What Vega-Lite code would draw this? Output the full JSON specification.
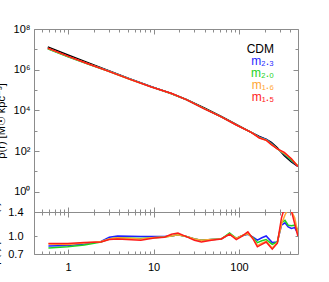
{
  "$schema": "https://vega.github.io/schema/vega-lite/v6.json",
  "padding": {"left": -11, "top": 23, "right": 0, "bottom": -9},
  "spacing": 0,
  "bounds": "flush",
  "resolve": {"scale": {"color": "independent"}},
  "config": {
    "font": "Liberation Sans",
    "view": {"stroke": null},
    "axis": {"domainColor": "#8c8c8c", "tickColor": "#8c8c8c", "grid": false, "labelFont": "Liberation Sans", "labelFontSize": 11, "labelColor": "#000000", "titleFont": "Liberation Sans", "titleFontSize": 11, "titleFontWeight": "normal", "titleColor": "#000000", "domainWidth": 1, "tickWidth": 1, "labelOverlap": false, "labelFlush": false}
  },
  "datasets": {
    "top": [
      {"model": "CDM", "r": 0.58, "rho": 13100000}, {"model": "CDM", "r": 1.0, "rho": 5260000}, {"model": "CDM", "r": 1.71, "rho": 2210000}, {"model": "CDM", "r": 2.94, "rho": 916000}, {"model": "CDM", "r": 5.21, "rho": 363000}, {"model": "CDM", "r": 9.42, "rho": 147000}, {"model": "CDM", "r": 16.1, "rho": 66800}, {"model": "CDM", "r": 24.2, "rho": 34000}, {"model": "CDM", "r": 39.3, "rho": 13000}, {"model": "CDM", "r": 62.1, "rho": 4990}, {"model": "CDM", "r": 93, "rho": 2020}, {"model": "CDM", "r": 139, "rho": 820}, {"model": "CDM", "r": 173, "rho": 522}, {"model": "CDM", "r": 209, "rho": 372}, {"model": "CDM", "r": 239, "rho": 265}, {"model": "CDM", "r": 281, "rho": 143}, {"model": "CDM", "r": 339, "rho": 58}, {"model": "CDM", "r": 410, "rho": 29.4}, {"model": "CDM", "r": 488, "rho": 17.3},
      {"model": "m₂.₃", "r": 0.58, "rho": 10900000}, {"model": "m₂.₃", "r": 1.0, "rho": 4420000}, {"model": "m₂.₃", "r": 1.71, "rho": 1934000}, {"model": "m₂.₃", "r": 2.94, "rho": 889000}, {"model": "m₂.₃", "r": 5.21, "rho": 361000}, {"model": "m₂.₃", "r": 9.42, "rho": 145500}, {"model": "m₂.₃", "r": 16.1, "rho": 66800}, {"model": "m₂.₃", "r": 24.2, "rho": 33700}, {"model": "m₂.₃", "r": 39.3, "rho": 12090}, {"model": "m₂.₃", "r": 62.1, "rho": 4740}, {"model": "m₂.₃", "r": 93, "rho": 1939}, {"model": "m₂.₃", "r": 139, "rho": 820}, {"model": "m₂.₃", "r": 173, "rho": 496}, {"model": "m₂.₃", "r": 209, "rho": 372}, {"model": "m₂.₃", "r": 239, "rho": 236}, {"model": "m₂.₃", "r": 281, "rho": 129}, {"model": "m₂.₃", "r": 339, "rho": 70.2}, {"model": "m₂.₃", "r": 410, "rho": 33.1}, {"model": "m₂.₃", "r": 488, "rho": 18.0},
      {"model": "m₂.₀", "r": 0.58, "rho": 10480000}, {"model": "m₂.₀", "r": 1.0, "rho": 4310000}, {"model": "m₂.₀", "r": 1.71, "rho": 1900000}, {"model": "m₂.₀", "r": 2.94, "rho": 861000}, {"model": "m₂.₀", "r": 5.21, "rho": 350000}, {"model": "m₂.₀", "r": 9.42, "rho": 142600}, {"model": "m₂.₀", "r": 16.1, "rho": 66800}, {"model": "m₂.₀", "r": 24.2, "rho": 33700}, {"model": "m₂.₀", "r": 39.3, "rho": 12090}, {"model": "m₂.₀", "r": 62.1, "rho": 4740}, {"model": "m₂.₀", "r": 93, "rho": 1939}, {"model": "m₂.₀", "r": 139, "rho": 820}, {"model": "m₂.₀", "r": 173, "rho": 470}, {"model": "m₂.₀", "r": 209, "rho": 350}, {"model": "m₂.₀", "r": 239, "rho": 228}, {"model": "m₂.₀", "r": 281, "rho": 129}, {"model": "m₂.₀", "r": 339, "rho": 73.1}, {"model": "m₂.₀", "r": 410, "rho": 34.4}, {"model": "m₂.₀", "r": 488, "rho": 19.0},
      {"model": "m₁.₆", "r": 0.58, "rho": 11330000}, {"model": "m₁.₆", "r": 1.0, "rho": 4520000}, {"model": "m₁.₆", "r": 1.71, "rho": 1967000}, {"model": "m₁.₆", "r": 2.94, "rho": 861000}, {"model": "m₁.₆", "r": 5.21, "rho": 348000}, {"model": "m₁.₆", "r": 9.42, "rho": 142600}, {"model": "m₁.₆", "r": 16.1, "rho": 66800}, {"model": "m₁.₆", "r": 24.2, "rho": 33700}, {"model": "m₁.₆", "r": 39.3, "rho": 12090}, {"model": "m₁.₆", "r": 62.1, "rho": 4740}, {"model": "m₁.₆", "r": 93, "rho": 1939}, {"model": "m₁.₆", "r": 139, "rho": 820}, {"model": "m₁.₆", "r": 173, "rho": 449}, {"model": "m₁.₆", "r": 209, "rho": 339}, {"model": "m₁.₆", "r": 239, "rho": 212}, {"model": "m₁.₆", "r": 281, "rho": 127}, {"model": "m₁.₆", "r": 339, "rho": 77.1}, {"model": "m₁.₆", "r": 410, "rho": 41.7}, {"model": "m₁.₆", "r": 488, "rho": 18.2},
      {"model": "m₁.₅", "r": 0.58, "rho": 11490000}, {"model": "m₁.₅", "r": 1.0, "rho": 4610000}, {"model": "m₁.₅", "r": 1.71, "rho": 1967000}, {"model": "m₁.₅", "r": 2.94, "rho": 852000}, {"model": "m₁.₅", "r": 5.21, "rho": 341000}, {"model": "m₁.₅", "r": 9.42, "rho": 141100}, {"model": "m₁.₅", "r": 16.1, "rho": 68800}, {"model": "m₁.₅", "r": 24.2, "rho": 33700}, {"model": "m₁.₅", "r": 39.3, "rho": 11830}, {"model": "m₁.₅", "r": 62.1, "rho": 4740}, {"model": "m₁.₅", "r": 93, "rho": 1899}, {"model": "m₁.₅", "r": 139, "rho": 820}, {"model": "m₁.₅", "r": 173, "rho": 438}, {"model": "m₁.₅", "r": 209, "rho": 335}, {"model": "m₁.₅", "r": 239, "rho": 207}, {"model": "m₁.₅", "r": 281, "rho": 126}, {"model": "m₁.₅", "r": 339, "rho": 85.3}, {"model": "m₁.₅", "r": 410, "rho": 41.7}, {"model": "m₁.₅", "r": 488, "rho": 17.3}
    ],
    "ratio": [
      {"model": "m₂.₃", "r": 0.59, "ratio": 0.832}, {"model": "m₂.₃", "r": 0.99, "ratio": 0.84}, {"model": "m₂.₃", "r": 1.55, "ratio": 0.866}, {"model": "m₂.₃", "r": 2.43, "ratio": 0.91}, {"model": "m₂.₃", "r": 3.04, "ratio": 0.98}, {"model": "m₂.₃", "r": 3.8, "ratio": 1.0}, {"model": "m₂.₃", "r": 7.1, "ratio": 0.99}, {"model": "m₂.₃", "r": 10.2, "ratio": 0.99}, {"model": "m₂.₃", "r": 13.4, "ratio": 0.99}, {"model": "m₂.₃", "r": 16.2, "ratio": 1.0}, {"model": "m₂.₃", "r": 19.3, "ratio": 1.02}, {"model": "m₂.₃", "r": 24.2, "ratio": 0.99}, {"model": "m₂.₃", "r": 30.1, "ratio": 0.95}, {"model": "m₂.₃", "r": 36.3, "ratio": 0.93}, {"model": "m₂.₃", "r": 47.5, "ratio": 0.94}, {"model": "m₂.₃", "r": 62, "ratio": 0.95}, {"model": "m₂.₃", "r": 77.5, "ratio": 1.03}, {"model": "m₂.₃", "r": 93, "ratio": 0.96}, {"model": "m₂.₃", "r": 106.5, "ratio": 1.0}, {"model": "m₂.₃", "r": 127, "ratio": 1.03}, {"model": "m₂.₃", "r": 146, "ratio": 0.98}, {"model": "m₂.₃", "r": 164, "ratio": 0.93}, {"model": "m₂.₃", "r": 185, "ratio": 0.97}, {"model": "m₂.₃", "r": 208, "ratio": 1.0}, {"model": "m₂.₃", "r": 245, "ratio": 0.89}, {"model": "m₂.₃", "r": 281, "ratio": 0.9}, {"model": "m₂.₃", "r": 314, "ratio": 1.18}, {"model": "m₂.₃", "r": 345, "ratio": 1.22}, {"model": "m₂.₃", "r": 376, "ratio": 1.15}, {"model": "m₂.₃", "r": 410, "ratio": 1.125}, {"model": "m₂.₃", "r": 449, "ratio": 1.14}, {"model": "m₂.₃", "r": 488, "ratio": 1.04},
      {"model": "m₂.₀", "r": 0.59, "ratio": 0.8}, {"model": "m₂.₀", "r": 0.99, "ratio": 0.82}, {"model": "m₂.₀", "r": 1.55, "ratio": 0.85}, {"model": "m₂.₀", "r": 2.43, "ratio": 0.9}, {"model": "m₂.₀", "r": 3.04, "ratio": 0.95}, {"model": "m₂.₀", "r": 3.8, "ratio": 0.97}, {"model": "m₂.₀", "r": 7.1, "ratio": 0.96}, {"model": "m₂.₀", "r": 10.2, "ratio": 0.97}, {"model": "m₂.₀", "r": 13.4, "ratio": 0.985}, {"model": "m₂.₀", "r": 16.2, "ratio": 1.0}, {"model": "m₂.₀", "r": 19.3, "ratio": 1.02}, {"model": "m₂.₀", "r": 24.2, "ratio": 0.99}, {"model": "m₂.₀", "r": 30.1, "ratio": 0.95}, {"model": "m₂.₀", "r": 36.3, "ratio": 0.93}, {"model": "m₂.₀", "r": 47.5, "ratio": 0.94}, {"model": "m₂.₀", "r": 62, "ratio": 0.95}, {"model": "m₂.₀", "r": 77.5, "ratio": 1.05}, {"model": "m₂.₀", "r": 93, "ratio": 0.96}, {"model": "m₂.₀", "r": 106.5, "ratio": 1.0}, {"model": "m₂.₀", "r": 127, "ratio": 1.04}, {"model": "m₂.₀", "r": 146, "ratio": 0.97}, {"model": "m₂.₀", "r": 164, "ratio": 0.89}, {"model": "m₂.₀", "r": 185, "ratio": 0.92}, {"model": "m₂.₀", "r": 208, "ratio": 0.94}, {"model": "m₂.₀", "r": 245, "ratio": 0.86}, {"model": "m₂.₀", "r": 281, "ratio": 0.9}, {"model": "m₂.₀", "r": 314, "ratio": 1.22}, {"model": "m₂.₀", "r": 345, "ratio": 1.26}, {"model": "m₂.₀", "r": 376, "ratio": 1.18}, {"model": "m₂.₀", "r": 410, "ratio": 1.17}, {"model": "m₂.₀", "r": 449, "ratio": 1.18}, {"model": "m₂.₀", "r": 488, "ratio": 1.1},
      {"model": "m₁.₆", "r": 0.59, "ratio": 0.865}, {"model": "m₁.₆", "r": 0.99, "ratio": 0.86}, {"model": "m₁.₆", "r": 1.55, "ratio": 0.885}, {"model": "m₁.₆", "r": 2.43, "ratio": 0.91}, {"model": "m₁.₆", "r": 3.04, "ratio": 0.95}, {"model": "m₁.₆", "r": 3.8, "ratio": 0.97}, {"model": "m₁.₆", "r": 7.1, "ratio": 0.95}, {"model": "m₁.₆", "r": 10.2, "ratio": 0.975}, {"model": "m₁.₆", "r": 13.4, "ratio": 0.985}, {"model": "m₁.₆", "r": 16.2, "ratio": 1.0}, {"model": "m₁.₆", "r": 19.3, "ratio": 1.02}, {"model": "m₁.₆", "r": 24.2, "ratio": 0.99}, {"model": "m₁.₆", "r": 30.1, "ratio": 0.95}, {"model": "m₁.₆", "r": 36.3, "ratio": 0.93}, {"model": "m₁.₆", "r": 47.5, "ratio": 0.94}, {"model": "m₁.₆", "r": 62, "ratio": 0.95}, {"model": "m₁.₆", "r": 77.5, "ratio": 1.03}, {"model": "m₁.₆", "r": 93, "ratio": 0.96}, {"model": "m₁.₆", "r": 106.5, "ratio": 1.0}, {"model": "m₁.₆", "r": 127, "ratio": 1.04}, {"model": "m₁.₆", "r": 146, "ratio": 0.96}, {"model": "m₁.₆", "r": 164, "ratio": 0.84}, {"model": "m₁.₆", "r": 185, "ratio": 0.88}, {"model": "m₁.₆", "r": 208, "ratio": 0.91}, {"model": "m₁.₆", "r": 245, "ratio": 0.8}, {"model": "m₁.₆", "r": 281, "ratio": 0.89}, {"model": "m₁.₆", "r": 314, "ratio": 1.2}, {"model": "m₁.₆", "r": 345, "ratio": 1.35}, {"model": "m₁.₆", "r": 376, "ratio": 1.45}, {"model": "m₁.₆", "r": 410, "ratio": 1.42}, {"model": "m₁.₆", "r": 449, "ratio": 1.3}, {"model": "m₁.₆", "r": 488, "ratio": 1.05},
      {"model": "m₁.₅", "r": 0.59, "ratio": 0.877}, {"model": "m₁.₅", "r": 0.99, "ratio": 0.877}, {"model": "m₁.₅", "r": 1.55, "ratio": 0.89}, {"model": "m₁.₅", "r": 2.43, "ratio": 0.9}, {"model": "m₁.₅", "r": 3.04, "ratio": 0.94}, {"model": "m₁.₅", "r": 3.8, "ratio": 0.95}, {"model": "m₁.₅", "r": 7.1, "ratio": 0.93}, {"model": "m₁.₅", "r": 10.2, "ratio": 0.965}, {"model": "m₁.₅", "r": 13.4, "ratio": 0.98}, {"model": "m₁.₅", "r": 16.2, "ratio": 1.03}, {"model": "m₁.₅", "r": 19.3, "ratio": 1.05}, {"model": "m₁.₅", "r": 24.2, "ratio": 0.99}, {"model": "m₁.₅", "r": 30.1, "ratio": 0.93}, {"model": "m₁.₅", "r": 36.3, "ratio": 0.9}, {"model": "m₁.₅", "r": 47.5, "ratio": 0.93}, {"model": "m₁.₅", "r": 62, "ratio": 0.95}, {"model": "m₁.₅", "r": 77.5, "ratio": 1.03}, {"model": "m₁.₅", "r": 93, "ratio": 0.94}, {"model": "m₁.₅", "r": 106.5, "ratio": 0.99}, {"model": "m₁.₅", "r": 127, "ratio": 1.07}, {"model": "m₁.₅", "r": 146, "ratio": 0.95}, {"model": "m₁.₅", "r": 164, "ratio": 0.82}, {"model": "m₁.₅", "r": 185, "ratio": 0.86}, {"model": "m₁.₅", "r": 208, "ratio": 0.9}, {"model": "m₁.₅", "r": 245, "ratio": 0.78}, {"model": "m₁.₅", "r": 281, "ratio": 0.88}, {"model": "m₁.₅", "r": 314, "ratio": 1.3}, {"model": "m₁.₅", "r": 345, "ratio": 1.5}, {"model": "m₁.₅", "r": 376, "ratio": 1.55}, {"model": "m₁.₅", "r": 410, "ratio": 1.42}, {"model": "m₁.₅", "r": 449, "ratio": 1.2}, {"model": "m₁.₅", "r": 488, "ratio": 1.0}
    ]
  },
  "vconcat": [
    {
      "width": 264,
      "height": 183,
      "data": {"name": "top"},
      "layer": [
        {
          "mark": {"type": "line", "strokeWidth": 1.5, "clip": true},
          "encoding": {
            "x": {"field": "r", "type": "quantitative", "scale": {"type": "log", "domain": [0.4, 490]},
              "axis": {"orient": "bottom", "values": [0.4,0.5,0.6,0.7,0.8,0.9,1,2,3,4,5,6,7,8,9,10,20,30,40,50,60,70,80,90,100,200,300,400], "labels": false, "title": null,
                "tickSize": {"condition": {"test": "indexof([1,10,100], datum.value) >= 0", "value": -5}, "value": -3}}},
            "y": {"field": "rho", "type": "quantitative", "scale": {"type": "log", "domain": [0.1, 100000000]},
              "axis": {"orient": "left", "values": [1,10,100,1000,10000,100000,1000000,10000000,100000000],
                "labelExpr": "round(log(datum.value)/LN10) % 2 == 0 ? '10' + ['⁰','¹','²','³','⁴','⁵','⁶','⁷','⁸'][round(log(datum.value)/LN10)] : ''",
                "tickSize": {"condition": {"test": "round(log(datum.value)/LN10) % 2 == 0", "value": -5}, "value": -3},
                "labelPadding": 9, "title": "ρ(r) [M☉ kpc⁻³]", "titlePadding": 7}},
            "color": {"field": "model", "type": "nominal",
              "scale": {"domain": ["CDM", "m₂.₃", "m₂.₀", "m₁.₆", "m₁.₅"], "range": ["#000000", "#1f1fff", "#1ed21e", "#ffa533", "#ff1a1a"]},
              "legend": {"orient": "none", "legendX": 228, "legendY": 14, "title": null, "symbolOpacity": 0, "symbolSize": 0, "symbolStrokeWidth": 0,
                "labelAlign": "right", "labelFontSize": 12, "labelFont": "Liberation Sans", "rowPadding": -0.5, "labelOffset": 0, "padding": 0,
                "encode": {"labels": {"update": {"fill": {"signal": "datum.value === 'CDM' ? '#000000' : datum.value === 'm₂.₃' ? '#1f1fff' : datum.value === 'm₂.₀' ? '#1ed21e' : datum.value === 'm₁.₆' ? '#ffa533' : '#ff1a1a'"}}}}}}
          }
        },
        {
          "mark": {"type": "line", "opacity": 0},
          "encoding": {
            "x": {"field": "r", "type": "quantitative", "scale": {"type": "log", "domain": [0.4, 490]},
              "axis": {"orient": "top", "values": [0.4,0.5,0.6,0.7,0.8,0.9,1,2,3,4,5,6,7,8,9,10,20,30,40,50,60,70,80,90,100,200,300,400], "labels": false, "title": null,
                "tickSize": {"condition": {"test": "indexof([1,10,100], datum.value) >= 0", "value": -5}, "value": -3}}},
            "y": {"field": "rho", "type": "quantitative", "scale": {"type": "log", "domain": [0.1, 100000000]},
              "axis": {"orient": "right", "values": [1,10,100,1000,10000,100000,1000000,10000000,100000000], "labels": false, "title": null,
                "tickSize": {"condition": {"test": "round(log(datum.value)/LN10) % 2 == 0", "value": -5}, "value": -3}}}
          }
        }
      ],
      "resolve": {"axis": {"x": "independent", "y": "independent"}}
    },
    {
      "width": 264,
      "height": 42,
      "layer": [
        {
          "mark": {"type": "rule", "strokeDash": [1, 2], "color": "#999999", "strokeWidth": 1},
          "encoding": {"y": {"datum": 1, "type": "quantitative", "scale": {"domain": [0.7, 1.4], "zero": false, "nice": false}, "axis": null}}
        },
        {
          "data": {"name": "ratio"},
          "mark": {"type": "line", "strokeWidth": 1.5, "clip": true},
          "encoding": {
            "x": {"field": "r", "type": "quantitative", "scale": {"type": "log", "domain": [0.4, 490]},
              "axis": {"orient": "bottom", "values": [0.4,0.5,0.6,0.7,0.8,0.9,1,2,3,4,5,6,7,8,9,10,20,30,40,50,60,70,80,90,100,200,300,400],
                "labelExpr": "indexof([1,10,100], datum.value) >= 0 ? '' + datum.value : ''", "labelPadding": 12, "title": "r [ kpc ]", "titlePadding": -2,
                "tickSize": {"condition": {"test": "indexof([1,10,100], datum.value) >= 0", "value": -5}, "value": -3}}},
            "y": {"field": "ratio", "type": "quantitative", "scale": {"domain": [0.7, 1.4], "zero": false, "nice": false},
              "axis": {"orient": "left", "values": [0.7, 1.0, 1.4], "format": ".1f", "labelPadding": 14, "tickSize": -3, "title": "ρ(r)/ρCDM(r)", "titlePadding": 7}},
            "color": {"field": "model", "type": "nominal",
              "scale": {"domain": ["CDM", "m₂.₃", "m₂.₀", "m₁.₆", "m₁.₅"], "range": ["#000000", "#1f1fff", "#1ed21e", "#ffa533", "#ff1a1a"]},
              "legend": null}
          }
        },
        {
          "data": {"name": "ratio"},
          "mark": {"type": "line", "opacity": 0},
          "encoding": {
            "x": {"field": "r", "type": "quantitative", "scale": {"type": "log", "domain": [0.4, 490]},
              "axis": {"orient": "top", "values": [0.4,0.5,0.6,0.7,0.8,0.9,1,2,3,4,5,6,7,8,9,10,20,30,40,50,60,70,80,90,100,200,300,400], "labels": false, "title": null,
                "tickSize": {"condition": {"test": "indexof([1,10,100], datum.value) >= 0", "value": -5}, "value": -3}}},
            "y": {"field": "ratio", "type": "quantitative", "scale": {"domain": [0.7, 1.4], "zero": false, "nice": false},
              "axis": {"orient": "right", "values": [1.0], "labels": false, "title": null, "tickSize": -3}}
          }
        }
      ],
      "resolve": {"axis": {"x": "independent", "y": "independent"}}
    }
  ]
}
